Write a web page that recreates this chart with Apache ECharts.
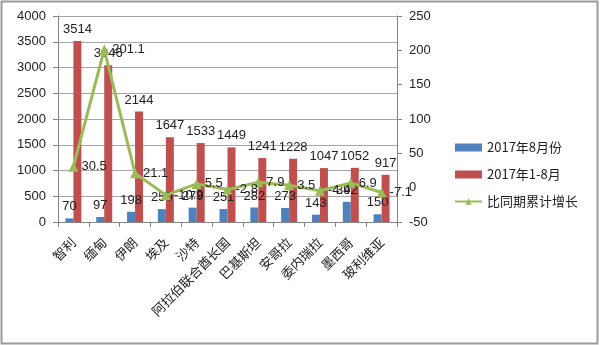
<!DOCTYPE html>
<html><head><meta charset="utf-8">
<script src="https://cdn.jsdelivr.net/npm/echarts@6/dist/echarts.min.js"></script>
<style>html,body{margin:0;padding:0;background:#fff}#c{width:600px;height:345px}</style>
</head><body><div id="c"></div>
<script>
const categories = ['智利','缅甸','伊朗','埃及','沙特','阿拉伯联合酋长国','巴基斯坦','安哥拉','委内瑞拉','墨西哥','玻利维亚'];
const augValues = [70, 97, 198, 250, 279, 251, 282, 273, 143, 392, 150];
const janAugValues = [3514, 3046, 2144, 1647, 1533, 1449, 1241, 1228, 1047, 1052, 917];
const growthValues = [30.5, 201.1, 21.1, -10.9, 5.5, -2.8, 7.9, 3.5, -4.4, 6.9, -7.1];
const seriesNames = ['2017年8月份', '2017年1-8月', '比同期累计增长'];

const chart = echarts.init(document.getElementById('c'), null, {renderer: 'canvas'});
const numFont = 'Liberation Sans';
const cjkFont = 'Noto Sans CJK SC';
const labelStyle = {show: true, fontSize: 13, color: '#222', fontFamily: numFont};
chart.setOption({
  animation: false,
  graphic: [{type: 'rect', shape: {x: 1.5, y: 1.5, width: 596, height: 342}, style: {fill: 'none', stroke: '#9a9a9a', lineWidth: 2}, z: 100}],
  grid: {left: 58, right: 203, top: 16, bottom: 123},
  legend: {
    orient: 'vertical', left: 449, top: 136, itemWidth: 27, itemHeight: 8, itemGap: 14,
    textStyle: {fontSize: 13, color: '#222', fontFamily: cjkFont},
    data: [{name: seriesNames[0], icon: 'rect'}, {name: seriesNames[1], icon: 'rect'}, {name: seriesNames[2]}]
  },
  xAxis: {
    type: 'category', data: categories,
    axisLine: {lineStyle: {color: '#868686'}},
    axisTick: {show: true, length: 5, lineStyle: {color: '#868686'}},
    axisLabel: {rotate: 45, margin: 18, fontSize: 13, color: '#222', fontFamily: cjkFont, interval: 0}
  },
  yAxis: [{
    type: 'value', min: 0, max: 4000, interval: 500,
    axisLine: {show: true, lineStyle: {color: '#868686'}},
    axisTick: {show: true, length: 5, lineStyle: {color: '#868686'}},
    axisLabel: {fontSize: 13, color: '#222', fontFamily: numFont, margin: 12, formatter: v => String(v)},
    splitLine: {lineStyle: {color: '#a6a6a6'}}
  }, {
    type: 'value', min: -50, max: 250, interval: 50,
    axisLine: {show: true, lineStyle: {color: '#868686'}},
    axisTick: {show: true, length: 5, lineStyle: {color: '#868686'}},
    axisLabel: {fontSize: 13, color: '#222', fontFamily: numFont, margin: 12, formatter: v => String(v)},
    splitLine: {show: false}
  }],
  series: [{
    name: seriesNames[0], type: 'bar', data: augValues, barWidth: 8, barGap: '0%',
    itemStyle: {color: '#4F81BD'}, label: Object.assign({position: 'top', distance: 5}, labelStyle)
  }, {
    name: seriesNames[1], type: 'bar', data: janAugValues, barWidth: 8, barGap: '0%',
    itemStyle: {color: '#C0504D'}, label: Object.assign({position: 'top', distance: 5}, labelStyle)
  }, {
    name: seriesNames[2], type: 'line', yAxisIndex: 1, data: growthValues,
    symbol: 'triangle', symbolSize: 10, showAllSymbol: true,
    lineStyle: {color: '#9BBB59', width: 3}, itemStyle: {color: '#9BBB59'},
    label: Object.assign({position: 'right', distance: 3}, labelStyle), z: 5
  }]
});
</script></body></html>
